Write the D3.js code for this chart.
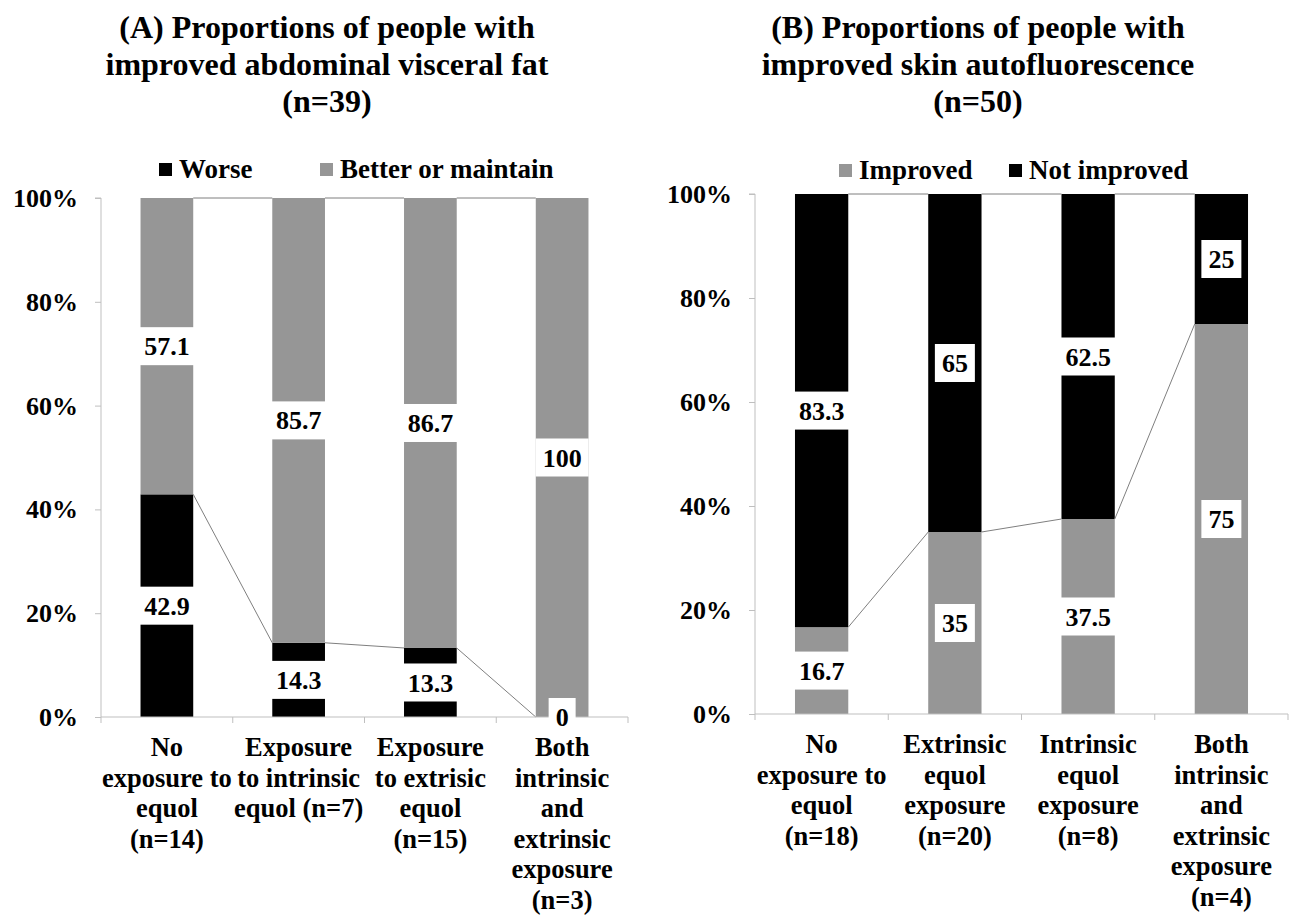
<!DOCTYPE html>
<html>
<head>
<meta charset="utf-8">
<script src="https://cdn.jsdelivr.net/npm/d3@7"></script>
<style>
  body { margin: 0; background: #fff; }
  svg text { font-family: "Liberation Serif", "DejaVu Serif", "Times New Roman", Times, serif; font-weight: bold; }
</style>
</head>
<body>
<div id="chartContainer"></div>
<script>
// Panel A data
var titleA = ["(A) Proportions of people with", "improved abdominal visceral fat", "(n=39)"];
var catsA = [
  ["No", "exposure to", "equol", "(n=14)"],
  ["Exposure", "to intrinsic", "equol (n=7)"],
  ["Exposure", "to extrisic", "equol", "(n=15)"],
  ["Both", "intrinsic", "and", "extrinsic", "exposure", "(n=3)"]
];
var worseA = [42.9, 14.3, 13.3, 0];
var betterA = [57.1, 85.7, 86.7, 100];

// Panel B data
var titleB = ["(B) Proportions of people with", "improved skin autofluorescence", "(n=50)"];
var catsB = [
  ["No", "exposure to", "equol", "(n=18)"],
  ["Extrinsic", "equol", "exposure", "(n=20)"],
  ["Intrinsic", "equol", "exposure", "(n=8)"],
  ["Both", "intrinsic", "and", "extrinsic", "exposure", "(n=4)"]
];
var improvedB = [16.7, 35, 37.5, 75];
var notImprovedB = [83.3, 65, 62.5, 25];

var yTicks = [0, 20, 40, 60, 80, 100];

var GREY = "#969696", BLACK = "#000000";
var FONT = "'Liberation Serif', 'DejaVu Serif', 'Times New Roman', Times, serif";

var svg = d3.select("#chartContainer").append("svg")
  .attr("width", 1291)
  .attr("height", 916)
  .attr("font-family", FONT)
  .attr("font-weight", "bold");

function drawPanel(p) {
  var x = d3.scaleBand().domain(d3.range(p.cats.length))
    .range([p.x0, p.x1]).paddingInner(0.6).paddingOuter(0.3);
  var band = d3.scaleBand().domain(d3.range(p.cats.length)).range([p.x0, p.x1]);
  var y = d3.scaleLinear().domain([0, 100]).range([p.yBottom, p.yTop]);
  var g = svg.append("g");

  // title
  g.append("text")
    .attr("text-anchor", "middle")
    .style("font-size", "32px")
    .selectAll("tspan").data(p.title).enter().append("tspan")
    .attr("x", p.titleX)
    .attr("y", function (d, i) { return 38 + i * 37; })
    .text(function (d) { return d; });

  // stacked segments, bottom series first
  var stacks = p.series.map(function (s, si) {
    return s.values.map(function (v, i) {
      var base = 0;
      for (var k = 0; k < si; k++) base += p.series[k].values[i];
      return { lo: base, hi: base + v, v: v, i: i, color: s.color };
    });
  });

  stacks.forEach(function (st) {
    g.selectAll(null).data(st).enter().append("rect")
      .attr("x", function (d) { return x(d.i); })
      .attr("width", x.bandwidth())
      .attr("y", function (d) { return y(d.hi); })
      .attr("height", function (d) { return y(d.lo) - y(d.hi); })
      .attr("fill", function (d) { return d.color; });
  });

  // series lines between neighbouring bars
  stacks.forEach(function (st) {
    for (var i = 0; i < st.length - 1; i++) {
      g.append("line")
        .attr("x1", x(i) + x.bandwidth()).attr("y1", y(st[i].hi))
        .attr("x2", x(i + 1)).attr("y2", y(st[i + 1].hi))
        .attr("stroke", "#7f7f7f").attr("stroke-width", 1);
    }
  });

  // y axis
  var yAxis = d3.axisLeft(y).tickValues(yTicks).tickSize(6)
    .tickFormat(function (d) { return d + "%"; });
  var ya = g.append("g").attr("transform", "translate(" + p.x0 + ",0)").call(yAxis)
    .attr("font-family", FONT).attr("font-size", 26);
  ya.select(".domain").attr("stroke", "#bfbfbf").attr("d", "M-6," + y(100) + "H0V" + y(0));
  ya.selectAll(".tick line").attr("stroke", "#bfbfbf");
  ya.selectAll(".tick text")
    .attr("x", -23).attr("dy", "0.33em")
    .attr("fill", "#000");

  // x axis line with ticks at band edges
  g.append("line")
    .attr("x1", p.x0).attr("x2", p.x1)
    .attr("y1", y(0)).attr("y2", y(0))
    .attr("stroke", "#bfbfbf");
  g.selectAll(null).data(d3.range(p.cats.length + 1)).enter().append("line")
    .attr("x1", function (d) { return p.x0 + d * band.bandwidth(); })
    .attr("x2", function (d) { return p.x0 + d * band.bandwidth(); })
    .attr("y1", y(0)).attr("y2", y(0) + 6)
    .attr("stroke", "#bfbfbf");

  // category labels
  p.cats.forEach(function (lines, i) {
    g.append("text")
      .attr("text-anchor", "middle")
      .style("font-size", "26.5px")
      .selectAll("tspan").data(lines).enter().append("tspan")
      .attr("x", x(i) + x.bandwidth() / 2)
      .attr("y", function (d, k) { return p.catY + k * 30.5; })
      .text(function (d) { return d; });
  });

  // data labels with white boxes
  stacks.forEach(function (st) {
    st.forEach(function (d) {
      var cx = x(d.i) + x.bandwidth() / 2;
      var cy = y((d.lo + d.hi) / 2);
      var lg = g.append("g");
      var t = lg.append("text")
        .attr("x", cx).attr("y", cy).attr("dy", "0.35em")
        .attr("text-anchor", "middle")
        .style("font-size", "26px")
        .text(d3.format("")(d.v));
      var w = t.node().getComputedTextLength();
      lg.insert("rect", "text")
        .attr("x", cx - w / 2 - 7).attr("y", cy - 19)
        .attr("width", w + 14).attr("height", 38)
        .attr("fill", "#fff");
    });
  });

  // legend
  var lg = g.append("g");
  p.legend.forEach(function (l) {
    lg.append("rect")
      .attr("x", l.x).attr("y", p.legendY - 15)
      .attr("width", 13).attr("height", 13)
      .attr("fill", l.color);
    lg.append("text")
      .attr("x", l.x + 20).attr("y", p.legendY)
      .style("font-size", "27px")
      .text(l.name);
  });
}

drawPanel({
  title: titleA, titleX: 327,
  cats: catsA, catY: 756,
  x0: 101, x1: 628, yTop: 198, yBottom: 717,
  series: [
    { name: "Worse", values: worseA, color: BLACK },
    { name: "Better or maintain", values: betterA, color: GREY }
  ],
  legendY: 178,
  legend: [
    { name: "Worse", color: BLACK, x: 159 },
    { name: "Better or maintain", color: GREY, x: 320 }
  ]
});

drawPanel({
  title: titleB, titleX: 978,
  cats: catsB, catY: 753,
  x0: 755, x1: 1288, yTop: 194, yBottom: 714,
  series: [
    { name: "Improved", values: improvedB, color: GREY },
    { name: "Not improved", values: notImprovedB, color: BLACK }
  ],
  legendY: 179,
  legend: [
    { name: "Improved", color: GREY, x: 839 },
    { name: "Not improved", color: BLACK, x: 1009 }
  ]
});
</script>
</body>
</html>
